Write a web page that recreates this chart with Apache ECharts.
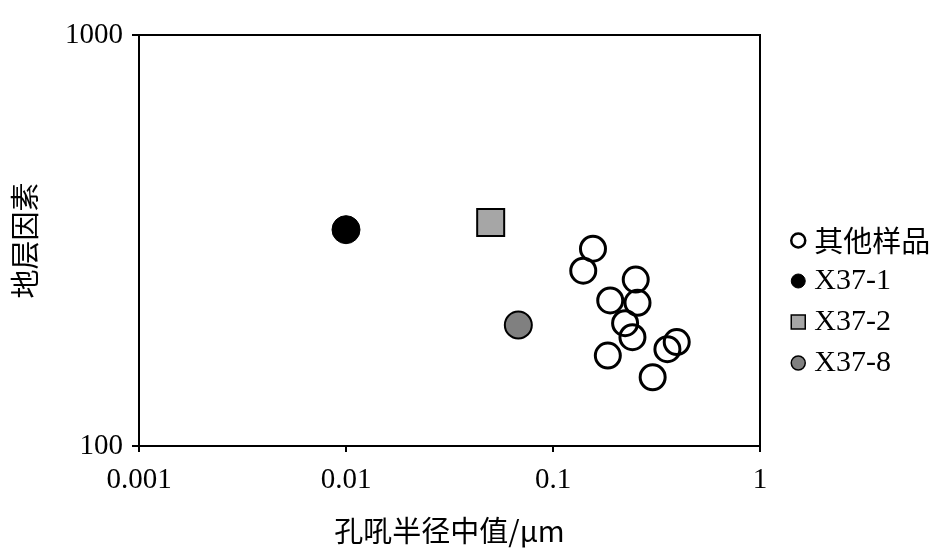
<!DOCTYPE html>
<html><head><meta charset="utf-8">
<script src="https://cdn.jsdelivr.net/npm/echarts@6/dist/echarts.min.js"></script>
<style>html,body{margin:0;padding:0;background:#fff}#c{width:939px;height:550px}</style>
</head><body><div id="c"></div>
<script>
// Data
var seriesNames = ['其他样品', 'X37-1', 'X37-2', 'X37-8'];
var otherX = [0.156, 0.140, 0.251, 0.189, 0.256, 0.223, 0.242, 0.184, 0.357, 0.396, 0.303];
var otherY = [302, 267, 254, 226, 223, 199, 184, 166, 172, 179, 147];
var x37_1 = [[0.010, 336]];
var x37_2 = [[0.050, 350]];
var x37_8 = [[0.068, 197]];
var xTicks = [0.001, 0.01, 0.1, 1];
var yTicks = [100, 1000];

var otherData = otherX.map(function (v, i) { return [v, otherY[i]]; });
var serif = '"Liberation Serif", "Times New Roman", "Noto Sans CJK SC", serif';
var cjk = '"Noto Sans CJK SC", "Liberation Serif", serif';

var chart = echarts.init(document.getElementById('c'));
chart.setOption({
  animation: false,
  backgroundColor: '#fff',
  grid: { left: 139, right: 179, top: 35, bottom: 101, show: true, borderColor: '#000', borderWidth: 2, backgroundColor: 'transparent' },
  xAxis: {
    type: 'log', logBase: 10, min: xTicks[0], max: xTicks[xTicks.length - 1],
    name: '孔吼半径中值/μm', nameLocation: 'middle', nameGap: 70,
    nameTextStyle: { fontFamily: cjk, fontSize: 29, color: '#000' },
    axisLine: { lineStyle: { color: '#000', width: 2 } },
    axisTick: { show: true, length: 6, inside: false, lineStyle: { color: '#000', width: 2 } },
    minorTick: { show: false },
    splitLine: { show: false },
    axisLabel: { fontFamily: serif, fontSize: 29, color: '#000', margin: 20,
      formatter: function (v) { return String(v); } }
  },
  yAxis: {
    type: 'log', logBase: 10, min: yTicks[0], max: yTicks[yTicks.length - 1],
    name: '地层因素', nameLocation: 'middle', nameGap: 100, nameRotate: 90,
    nameTextStyle: { fontFamily: cjk, fontSize: 29, color: '#000' },
    axisLine: { lineStyle: { color: '#000', width: 2 } },
    axisTick: { show: true, length: 7, lineStyle: { color: '#000', width: 2 } },
    splitLine: { show: false },
    axisLabel: { fontFamily: serif, fontSize: 29, color: '#000', margin: 16,
      formatter: function (v) { return String(v); } }
  },
  legend: {
    orient: 'vertical', left: 785, top: 221, itemGap: 11, itemWidth: 14, itemHeight: 14,
    textStyle: { fontFamily: serif, fontSize: 30, color: '#000', padding: [0, 0, 0, 4] },
    data: [
      { name: seriesNames[0], icon: 'circle', itemStyle: { color: '#fff', borderColor: '#000', borderWidth: 2.5 }, textStyle: { fontFamily: cjk, fontSize: 29 } },
      { name: seriesNames[1], icon: 'circle', itemStyle: { color: '#000', borderColor: '#000', borderWidth: 1 } },
      { name: seriesNames[2], icon: 'rect', itemStyle: { color: '#a6a6a6', borderColor: '#000', borderWidth: 1.5 } },
      { name: seriesNames[3], icon: 'circle', itemStyle: { color: '#808080', borderColor: '#000', borderWidth: 1.5 } }
    ]
  },
  series: [
    { name: seriesNames[0], type: 'scatter', symbol: 'circle', symbolSize: 25, data: otherData,
      itemStyle: { color: 'rgba(255,255,255,0)', borderColor: '#000', borderWidth: 3, opacity: 1 } },
    { name: seriesNames[1], type: 'scatter', symbol: 'circle', symbolSize: 28, data: x37_1,
      itemStyle: { color: '#000', borderColor: '#000', borderWidth: 1, opacity: 1 } },
    { name: seriesNames[2], type: 'scatter', symbol: 'rect', symbolSize: 27, data: x37_2,
      itemStyle: { color: '#a6a6a6', borderColor: '#000', borderWidth: 2, opacity: 1 } },
    { name: seriesNames[3], type: 'scatter', symbol: 'circle', symbolSize: 27, data: x37_8,
      itemStyle: { color: '#808080', borderColor: '#000', borderWidth: 2, opacity: 1 } }
  ]
});
</script>
</body></html>
